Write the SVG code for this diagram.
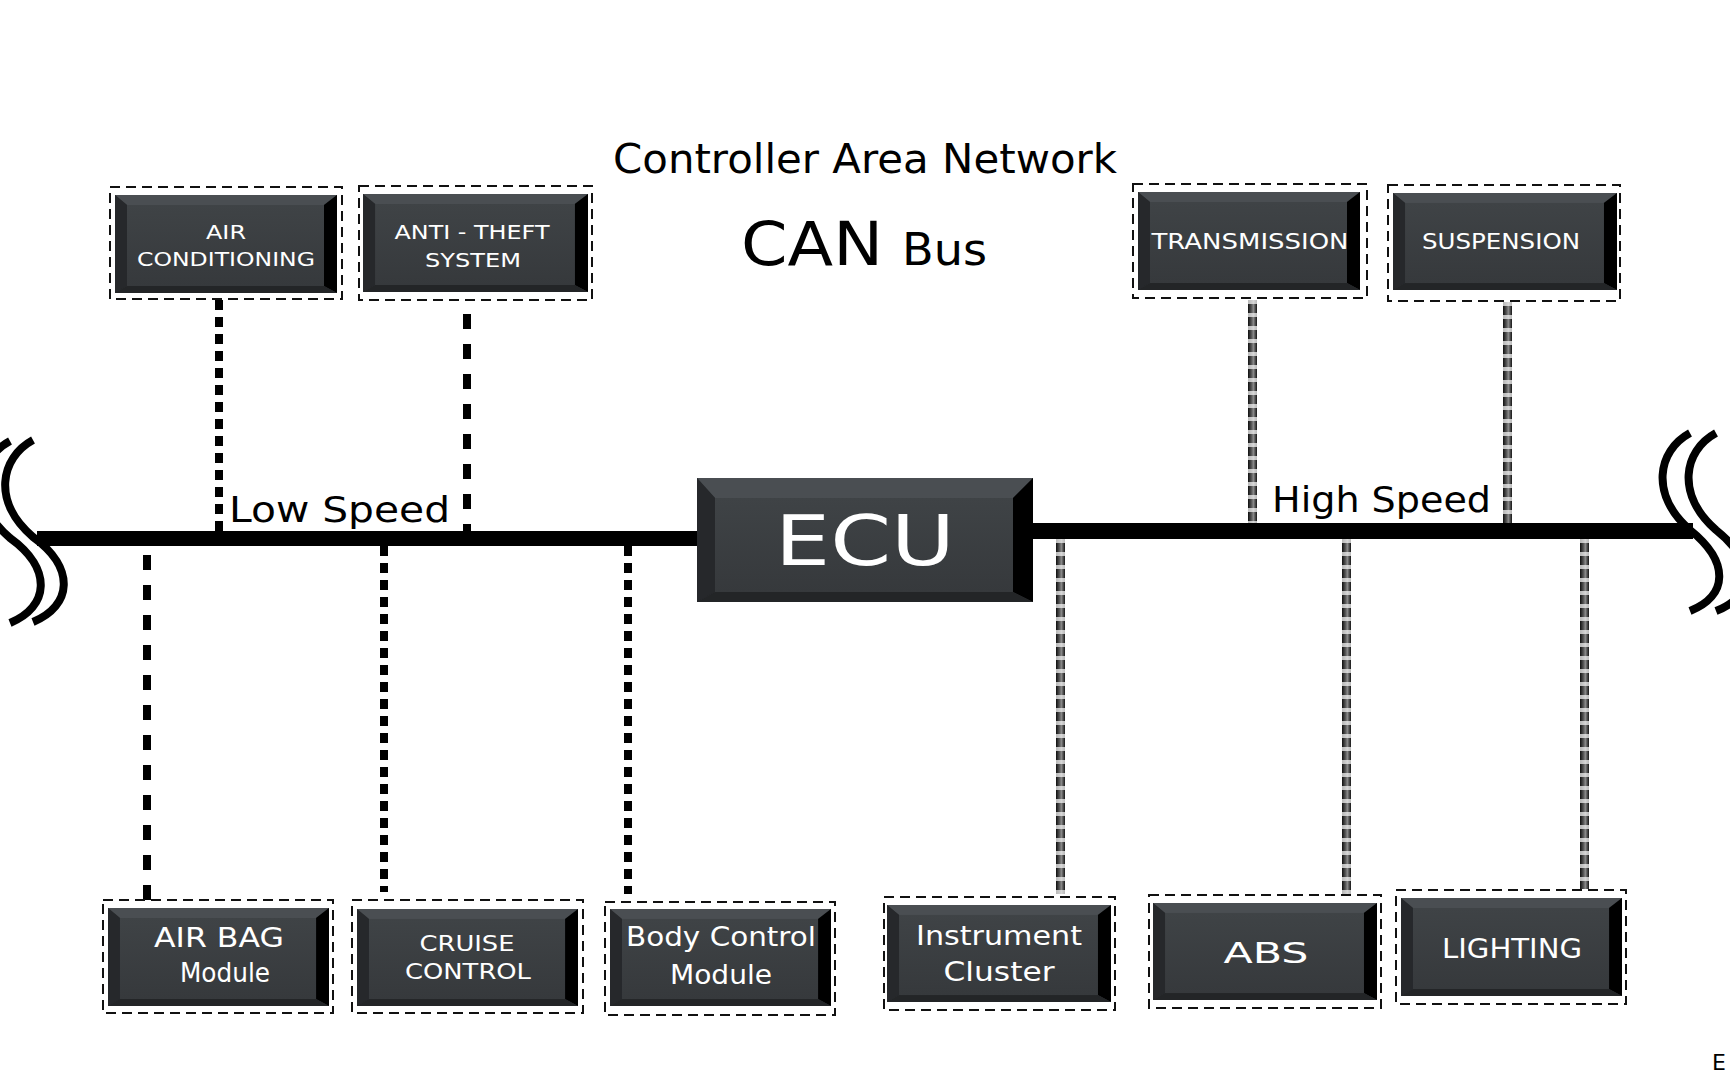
<svg xmlns="http://www.w3.org/2000/svg" width="1730" height="1080" viewBox="0 0 1730 1080">
<style>
.frame{fill:none;stroke:#111;stroke-width:2;stroke-dasharray:10 6}
.lbl{font-family:"DejaVu Sans","Liberation Sans",sans-serif;fill:#fff;text-anchor:middle}
.ttl{font-family:"DejaVu Sans","Liberation Sans",sans-serif;fill:#000}
.ls{fill:none;stroke:#000;stroke-width:8}
.brk{fill:none;stroke:#000;stroke-width:8}
.hsd{stroke:#f2f2f2;stroke-opacity:.75;stroke-width:9;stroke-dasharray:4 9}
</style>
<defs>
<linearGradient id="face" x1="0" y1="0" x2="0" y2="1">
<stop offset="0" stop-color="#3f4346"/><stop offset="1" stop-color="#36393c"/>
</linearGradient>
<linearGradient id="hs" x1="0" y1="0" x2="1" y2="0">
<stop offset="0" stop-color="#0e0e0e"/><stop offset=".4" stop-color="#5a5a5a"/><stop offset=".6" stop-color="#8a8a8a"/><stop offset="1" stop-color="#151515"/>
</linearGradient>
<symbol id="bevel" viewBox="0 0 222 98" preserveAspectRatio="none">
<rect width="222" height="98" fill="#303336"/>
<polygon points="0,0 222,0 209,10 12,10" fill="#4a4e52"/>
<polygon points="0,0 12,10 12,91 0,98" fill="#26282b"/>
<polygon points="222,0 222,98 209,91 209,10" fill="#000"/>
<polygon points="0,98 12,91 209,91 222,98" fill="#232527"/>
<rect x="12" y="10" width="197" height="81" fill="url(#face)"/>
</symbol>
</defs>
<rect width="1730" height="1080" fill="#fff"/>

<g id="title">
<text class="ttl" x="865" y="173" font-size="40" text-anchor="middle" textLength="504" lengthAdjust="spacingAndGlyphs">Controller Area Network</text>
<text class="ttl" y="265"><tspan x="741" font-size="61" textLength="142" lengthAdjust="spacingAndGlyphs">CAN</tspan><tspan x="902" font-size="45" textLength="85" lengthAdjust="spacingAndGlyphs">Bus</tspan></text>
</g>

<g id="connectors">
<rect x="37" y="531" width="660" height="15" fill="#000"/>
<rect x="1033" y="523" width="660" height="16" fill="#000"/>
<path class="brk" d="M33 440 C0 458,-8 502,33 537 C76 568,72 606,33 622"/>
<path class="brk" d="M10 441 C-23 459,-31 503,10 538 C53 569,49 607,10 623"/>
<path class="brk" d="M1690 433 C1657 451,1650 495,1690 530 C1730 562,1728 596,1690 611"/>
<path class="brk" d="M1716 433 C1683 451,1676 495,1716 530 C1756 562,1754 596,1716 611"/>
<line class="ls" x1="219" y1="300" x2="219" y2="531" stroke-dasharray="10 7"/>
<line class="ls" x1="467" y1="314" x2="467" y2="531" stroke-dasharray="15 15"/>
<line class="ls" x1="147" y1="555" x2="147" y2="900" stroke-dasharray="15 15"/>
<line class="ls" x1="384" y1="546" x2="384" y2="892" stroke-dasharray="10 7"/>
<line class="ls" x1="628" y1="546" x2="628" y2="894" stroke-dasharray="10 7"/>
<rect x="1248" y="300" width="9" height="223" fill="url(#hs)"/>
<line class="hsd" x1="1252.5" y1="300" x2="1252.5" y2="523"/>
<rect x="1503" y="302" width="9" height="221" fill="url(#hs)"/>
<line class="hsd" x1="1507.5" y1="302" x2="1507.5" y2="523"/>
<rect x="1056" y="539" width="9" height="355" fill="url(#hs)"/>
<line class="hsd" x1="1060.5" y1="539" x2="1060.5" y2="894"/>
<rect x="1342" y="539" width="9" height="356" fill="url(#hs)"/>
<line class="hsd" x1="1346.5" y1="539" x2="1346.5" y2="895"/>
<rect x="1580" y="539" width="9" height="350" fill="url(#hs)"/>
<line class="hsd" x1="1584.5" y1="539" x2="1584.5" y2="889"/>
</g>

<g id="speed-labels">
<text class="ttl" x="229" y="522" font-size="35" textLength="221" lengthAdjust="spacingAndGlyphs">Low Speed</text>
<text class="ttl" x="1272" y="512" font-size="36" textLength="219" lengthAdjust="spacingAndGlyphs">High Speed</text>
</g>

<g id="ecu">
<rect x="697" y="478" width="336" height="124" fill="#303336"/>
<polygon points="697,478 1033,478 1013,498 715,498" fill="#4a4e52"/>
<polygon points="697,478 715,498 715,592 697,602" fill="#26282b"/>
<polygon points="1033,478 1033,602 1013,592 1013,498" fill="#000"/>
<polygon points="697,602 715,592 1013,592 1033,602" fill="#232527"/>
<rect x="715" y="498" width="298" height="94" fill="url(#face)"/>
<text class="lbl" x="865" y="565" font-size="69" textLength="180" lengthAdjust="spacingAndGlyphs">ECU</text>
</g>

<g id="air-conditioning">
<rect class="frame" x="110" y="187" width="232" height="112"/>
<use href="#bevel" x="115" y="195" width="222" height="98"/>
<text class="lbl" x="226" y="239" font-size="19" textLength="40" lengthAdjust="spacingAndGlyphs">AIR</text>
<text class="lbl" x="226" y="266" font-size="19" textLength="178" lengthAdjust="spacingAndGlyphs">CONDITIONING</text>
</g>

<g id="anti-theft">
<rect class="frame" x="359" y="186" width="233" height="114"/>
<use href="#bevel" x="363" y="194" width="225" height="98"/>
<text class="lbl" x="472" y="239" font-size="19" textLength="155" lengthAdjust="spacingAndGlyphs">ANTI - THEFT</text>
<text class="lbl" x="473" y="267" font-size="19" textLength="96" lengthAdjust="spacingAndGlyphs">SYSTEM</text>
</g>

<g id="transmission">
<rect class="frame" x="1133" y="184" width="234" height="114"/>
<use href="#bevel" x="1138" y="192" width="222" height="98"/>
<text class="lbl" x="1250" y="249" font-size="21" textLength="197" lengthAdjust="spacingAndGlyphs">TRANSMISSION</text>
</g>

<g id="suspension">
<rect class="frame" x="1388" y="185" width="232" height="116"/>
<use href="#bevel" x="1393" y="193" width="224" height="97"/>
<text class="lbl" x="1501" y="249" font-size="21" textLength="158" lengthAdjust="spacingAndGlyphs">SUSPENSION</text>
</g>

<g id="air-bag">
<rect class="frame" x="103" y="900" width="230" height="113"/>
<use href="#bevel" x="108" y="908" width="221" height="98"/>
<text class="lbl" x="219" y="947" font-size="26" textLength="130" lengthAdjust="spacingAndGlyphs">AIR BAG</text>
<text class="lbl" x="225" y="982" font-size="26" textLength="90" lengthAdjust="spacingAndGlyphs">Module</text>
</g>

<g id="cruise-control">
<rect class="frame" x="352" y="900" width="231" height="113"/>
<use href="#bevel" x="357" y="909" width="221" height="97"/>
<text class="lbl" x="467" y="951" font-size="22" textLength="95" lengthAdjust="spacingAndGlyphs">CRUISE</text>
<text class="lbl" x="468" y="979" font-size="22" textLength="126" lengthAdjust="spacingAndGlyphs">CONTROL</text>
</g>

<g id="body-control">
<rect class="frame" x="605" y="902" width="230" height="113"/>
<use href="#bevel" x="610" y="909" width="221" height="97"/>
<text class="lbl" x="721" y="946" font-size="26" textLength="190" lengthAdjust="spacingAndGlyphs">Body Control</text>
<text class="lbl" x="721" y="984" font-size="26" textLength="102" lengthAdjust="spacingAndGlyphs">Module</text>
</g>

<g id="instrument-cluster">
<rect class="frame" x="884" y="897" width="231" height="113"/>
<use href="#bevel" x="887" y="905" width="224" height="97"/>
<text class="lbl" x="999" y="945" font-size="26" textLength="166" lengthAdjust="spacingAndGlyphs">Instrument</text>
<text class="lbl" x="999" y="981" font-size="26" textLength="111" lengthAdjust="spacingAndGlyphs">Cluster</text>
</g>

<g id="abs">
<rect class="frame" x="1149" y="895" width="232" height="113"/>
<use href="#bevel" x="1153" y="903" width="224" height="97"/>
<text class="lbl" x="1266" y="963" font-size="28" textLength="85" lengthAdjust="spacingAndGlyphs">ABS</text>
</g>

<g id="lighting">
<rect class="frame" x="1396" y="890" width="230" height="114"/>
<use href="#bevel" x="1401" y="898" width="221" height="98"/>
<text class="lbl" x="1512" y="958" font-size="27" textLength="140" lengthAdjust="spacingAndGlyphs">LIGHTING</text>
</g>

<text class="ttl" x="1712" y="1070" font-size="22">E</text>
</svg>
